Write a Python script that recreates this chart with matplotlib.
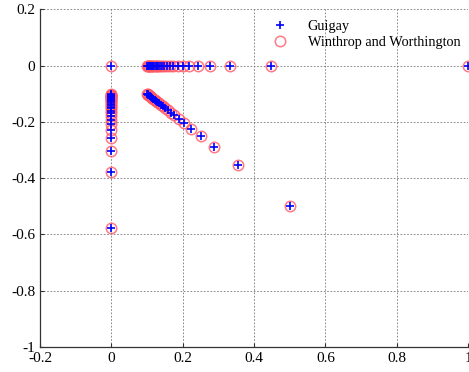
import matplotlib
matplotlib.use("Agg")
import matplotlib.pyplot as plt

plt.rcParams['font.family'] = ['Liberation Serif', 'DejaVu Serif']

# Points on y = 0 (x values)
row_x = [1.000, 0.447, 0.333, 0.277, 0.243, 0.218, 0.200, 0.186, 0.174, 0.164,
         0.156, 0.149, 0.143, 0.137, 0.132, 0.128, 0.124, 0.120, 0.117, 0.114,
         0.111, 0.108, 0.106, 0.104, 0.102, 0.0995]
# Points on diagonal y = -x
diag_x = [0.500, 0.354, 0.289, 0.250, 0.224, 0.204, 0.189, 0.177, 0.167, 0.158,
          0.151, 0.144, 0.139, 0.134, 0.129, 0.125, 0.121, 0.118, 0.115, 0.112,
          0.109, 0.107, 0.104, 0.102, 0.100]
# Points on x = 0 (y values)
col_y = [-0.577, -0.378, -0.302, -0.258, -0.229, -0.209, -0.192, -0.180, -0.169, -0.160,
         -0.152, -0.146, -0.140, -0.135, -0.130, -0.126, -0.122, -0.119, -0.115, -0.113,
         -0.110, -0.107, -0.105, -0.103, -0.101]

xs = [0.0] + row_x + diag_x + [0.0] * len(col_y)
ys = [0.0] + [0.0] * len(row_x) + [-v for v in diag_x] + col_y

guigay_x, guigay_y = xs, ys
ww_x, ww_y = xs, ys

fig = plt.figure(figsize=(4.69, 3.72), dpi=100)
ax = fig.add_axes([0.0853, 0.0672, 0.9127, 0.9078])

ax.plot(guigay_x, guigay_y, linestyle='none', marker='+', color='blue',
        markersize=6, markeredgewidth=1.2, label='Guigay', zorder=3)
ax.plot(ww_x, ww_y, linestyle='none', marker='o', markerfacecolor='none',
        markeredgecolor=(1.0, 0.35, 0.4), alpha=0.8, markersize=7.5, markeredgewidth=1.1,
        label='Winthrop and Worthington', zorder=2)

ax.set_xlim(-0.2, 1.0)
ax.set_ylim(-1.0, 0.2)
ax.set_xticks([-0.2, 0, 0.2, 0.4, 0.6, 0.8, 1])
ax.set_xticklabels(['-0.2', '0', '0.2', '0.4', '0.6', '0.8', '1'])
ax.set_yticks([-1, -0.8, -0.6, -0.4, -0.2, 0, 0.2])
ax.set_yticklabels(['-1', '-0.8', '-0.6', '-0.4', '-0.2', '0', '0.2'])
ax.tick_params(direction='in', length=3, labelsize=11, color='#333333')
ax.grid(True, linestyle=(0, (2, 2)), color='#777777', linewidth=0.6)

for s in ['top', 'right']:
    ax.spines[s].set_visible(False)
for s in ['left', 'bottom']:
    ax.spines[s].set_color('#333333')
    ax.spines[s].set_linewidth(0.9)

leg = ax.legend(loc='upper right', bbox_to_anchor=(0.995, 0.985), frameon=False,
                fontsize=10.3, handletextpad=1.3, borderaxespad=0.0,
                labelspacing=0.2, handlelength=1.2)

fig.savefig('out.png', dpi=100)
